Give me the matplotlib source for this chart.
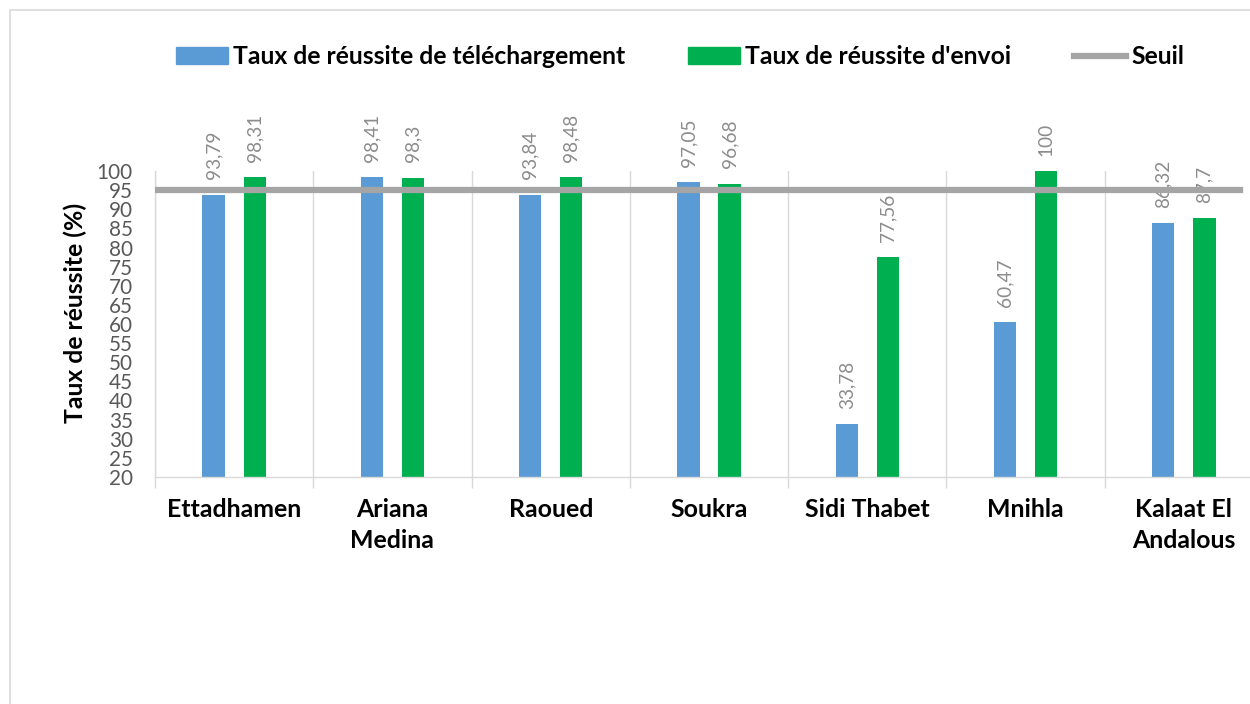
import matplotlib
matplotlib.use("Agg")
import matplotlib.pyplot as plt
import matplotlib.patches as mpatches
from matplotlib.lines import Line2D
import numpy as np

categories = ["Ettadhamen", "Ariana\nMedina", "Raoued", "Soukra", "Sidi Thabet", "Mnihla", "Kalaat El\nAndalous"]
telechargement = [93.79, 98.41, 93.84, 97.05, 33.78, 60.47, 86.32]
envoi = [98.31, 98.30, 98.48, 96.68, 77.56, 100.0, 87.70]
labels_tel = ["93,79", "98,41", "93,84", "97,05", "33,78", "60,47", "86,32"]
labels_env = ["98,31", "98,3", "98,48", "96,68", "77,56", "100", "87,7"]
seuil = 95
yticks = list(range(20, 101, 5))

series_names = ["Taux de réussite de téléchargement", "Taux de réussite d'envoi", "Seuil"]
blue = "#5B9BD5"
green = "#00B050"
grey_line = "#A5A5A5"
grid_c = "#D9D9D9"

plt.rcParams['font.family'] = ['Lato', 'DejaVu Sans']

W, H = 1250, 704
fig = plt.figure(figsize=(W / 100, H / 100), dpi=100)
renderer = fig.canvas.get_renderer()


def fit_size(s, target_px, weight="normal"):
    t = fig.text(0, 0, s, fontsize=10, fontweight=weight)
    w = t.get_window_extent(renderer).width
    t.remove()
    return 10 * target_px / w


fs_legend = fit_size(series_names[0], 395, "bold")
fs_ylab = fit_size("Taux de réussite (%)", 221, "bold")
fs_data = fit_size("93,79", 48)
fs_tick = fit_size("100", 36)
fs_x = fit_size("Sidi Thabet", 125, "bold")

ax = fig.add_axes([155 / W, 1 - 477 / H, (1263 - 155) / W, (477 - 171) / H])

x = np.arange(len(categories))
bw = 0.14
off = 0.13
ax.bar(x - off, [v - 20 for v in telechargement], bottom=20, width=bw, color=blue, zorder=2)
ax.bar(x + off, [v - 20 for v in envoi], bottom=20, width=bw, color=green, zorder=2)

for xi, v, lab in zip(x - off, telechargement, labels_tel):
    ax.annotate(lab, (xi, v), xytext=(0, 11), textcoords="offset points", rotation=90,
                ha="center", va="bottom", fontsize=fs_data, color="#8C8C8C", zorder=3)
for xi, v, lab in zip(x + off, envoi, labels_env):
    ax.annotate(lab, (xi, v), xytext=(0, 11), textcoords="offset points", rotation=90,
                ha="center", va="bottom", fontsize=fs_data, color="#8C8C8C", zorder=3)

ax.axhline(seuil, xmin=0, xmax=(1240 - 155) / (1263 - 155), color=grey_line, lw=4.5, zorder=5)

ax.set_xlim(-0.5, len(categories) - 0.5)
ax.set_ylim(20, 100)
ax.set_yticks(yticks)
ax.set_yticklabels([str(t) for t in yticks])
ax.set_yticks([20], minor=True)
ax.tick_params(axis="y", which="major", length=0, pad=16, labelsize=fs_tick, labelcolor="#595959")
ax.tick_params(axis="y", which="minor", length=8, color=grid_c, width=1)

ax.set_xticks(x)
ax.set_xticklabels(categories, fontweight="bold", fontsize=fs_x, color="black", linespacing=1.45)
ax.set_xticks(np.arange(-0.5, len(categories), 1.0), minor=True)
ax.tick_params(axis="x", which="major", length=0, pad=15)
ax.tick_params(axis="x", which="minor", length=8, color=grid_c, width=1)
ax.grid(axis="x", which="minor", color=grid_c, lw=1, zorder=0)
ax.set_axisbelow(True)

for s in ["top", "right"]:
    ax.spines[s].set_visible(False)
for s in ["left", "bottom"]:
    ax.spines[s].set_color(grid_c)
    ax.spines[s].set_linewidth(1)

fig.text(75 / W, 1 - 313 / H, "Taux de réussite (%)", rotation=90, ha="center", va="center",
         fontsize=fs_ylab, fontweight="bold", color="black")

handles = [mpatches.Patch(color=blue), mpatches.Patch(color=green),
           Line2D([0], [0], color=grey_line, lw=4.5)]
px_per_em = fs_legend * 100 / 72
fig.legend(handles, series_names, loc="center", bbox_to_anchor=(680 / W, 1 - 57 / H), ncol=3,
           frameon=False, prop={"weight": "bold", "size": fs_legend}, handlelength=52 / px_per_em,
           handleheight=17 / px_per_em, handletextpad=5 / px_per_em, columnspacing=63 / px_per_em,
           borderpad=0, borderaxespad=0)

fig.patches.append(mpatches.Rectangle((10 / W, -0.1), 1.2, 1 - 10 / H + 0.1, transform=fig.transFigure,
                                      fill=False, ec=grid_c, lw=1.2))

fig.savefig("out.png", dpi=100)
